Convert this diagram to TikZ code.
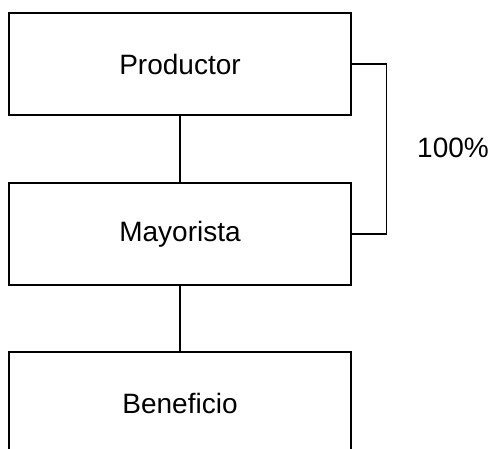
\documentclass[tikz,border=0pt]{standalone}
\usepackage{fontspec}
\setmainfont{Liberation Sans}
\begin{document}
\begin{tikzpicture}[x=1pt,y=1pt,
  box/.style={draw, line width=1.3pt, rectangle, minimum width=342pt, minimum height=102pt, inner sep=0pt, font=\fontsize{28}{33}\selectfont},
  link/.style={line width=1.3pt}]
\clip (0,0) rectangle (491,-449);
\fill[white] (0,0) rectangle (491,-449);
\node[box] (prod) at (180,-64) {Productor};
\node[box] (mayo) at (180,-234) {Mayorista};
\node[box] (bene) at (180,-403) {Beneficio};
\node[font=\fontsize{28}{33}\selectfont, inner sep=0pt] (pct) at (453,-148) {100\%};
\draw[link] (prod) -- (mayo);
\draw[link] (mayo) -- (bene);
\draw[link] (prod.east) -- ++(35,0) |- (mayo.east);
\end{tikzpicture}
\end{document}
